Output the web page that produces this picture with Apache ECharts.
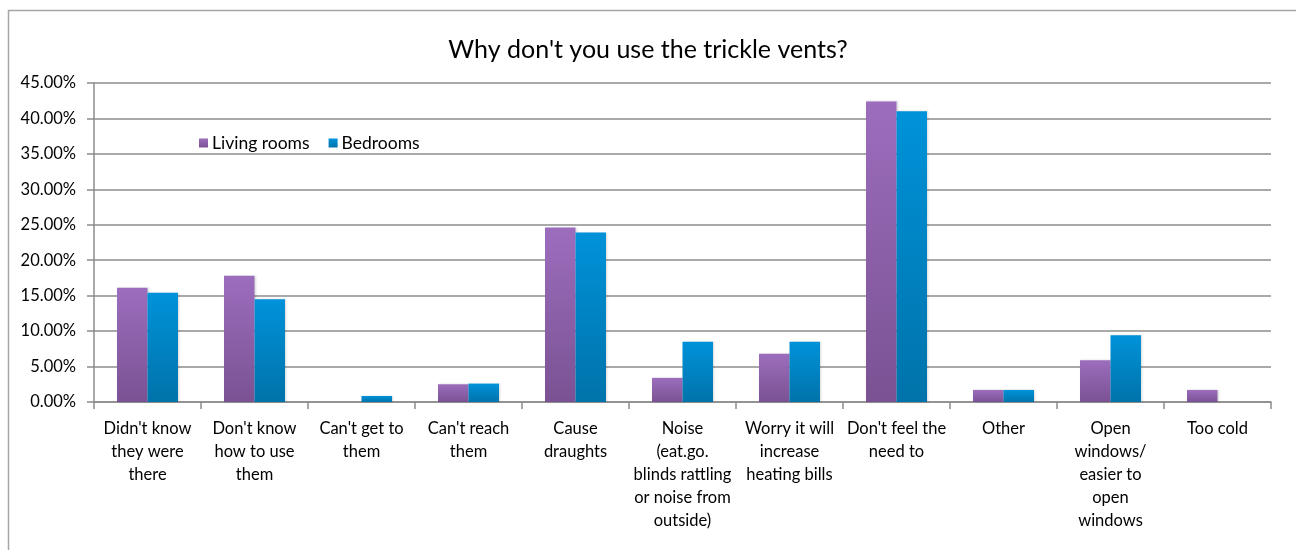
<!DOCTYPE html>
<html>
<head>
<meta charset="utf-8">
<script src="https://cdn.jsdelivr.net/npm/echarts@6/dist/echarts.min.js"></script>
<style>
html,body{margin:0;padding:0;background:#fff;}
#chart{width:1296px;height:550px;}
</style>
</head>
<body>
<div id="chart"></div>
<script>
const categories = [
  "Didn't know\nthey were\nthere",
  "Don't know\nhow to use\nthem",
  "Can't get to\nthem",
  "Can't reach\nthem",
  "Cause\ndraughts",
  "Noise\n(eat.go.\nblinds rattling\nor noise from\noutside)",
  "Worry it will\nincrease\nheating bills",
  "Don't feel the\nneed to",
  "Other",
  "Open\nwindows/\neasier to\nopen\nwindows",
  "Too cold"
];
const livingRooms = [16.1, 17.8, 0, 2.5, 24.6, 3.4, 6.8, 42.4, 1.7, 5.9, 1.7];
const bedrooms    = [15.4, 14.5, 0.85, 2.6, 23.9, 8.5, 8.5, 41.0, 1.7, 9.4, 0];
const yTicks = { min: 0, max: 45, interval: 5 };

const font = "Lato, 'Open Sans', sans-serif";
const chart = echarts.init(document.getElementById('chart'));
chart.setOption({
  animation: false,
  backgroundColor: '#fff',
  graphic: [{
    type: 'rect',
    shape: { x: 8.5, y: 10.5, width: 1400, height: 700 },
    style: { fill: 'none', stroke: '#a6a6a6', lineWidth: 1.5 },
    silent: true
  }],
  title: {
    text: "Why don't you use the trickle vents?",
    left: 'center',
    top: 32,
    textStyle: { fontFamily: font, fontSize: 25, fontWeight: 'normal', color: '#000' }
  },
  legend: {
    left: 194,
    top: 129,
    itemWidth: 9,
    itemHeight: 9,
    itemGap: 19,
    icon: 'rect',
    textStyle: { fontFamily: font, fontSize: 17.5, color: '#000', padding: [0, 0, 0, -1] },
    data: ['Living rooms', 'Bedrooms']
  },
  grid: { left: 94, right: 25, top: 83, bottom: 148, containLabel: false },
  xAxis: {
    type: 'category',
    data: categories,
    axisLine: { lineStyle: { color: '#8c8c8c', width: 1.5 } },
    axisTick: { show: true, length: 7, alignWithLabel: false, lineStyle: { color: '#8c8c8c', width: 1.5 } },
    axisLabel: { interval: 0, fontFamily: font, fontSize: 16.5, color: '#000', lineHeight: 23, margin: 15 },
    splitLine: { show: false }
  },
  yAxis: {
    type: 'value',
    min: yTicks.min,
    max: yTicks.max,
    interval: yTicks.interval,
    axisLine: { show: true, lineStyle: { color: '#8c8c8c', width: 1.5 } },
    axisTick: { show: true, length: 7, lineStyle: { color: '#8c8c8c', width: 1.5 } },
    axisLabel: { fontFamily: font, fontSize: 16.5, color: '#000', margin: 18, formatter: v => v.toFixed(2) + '%' },
    splitLine: { show: true, lineStyle: { color: '#8c8c8c', width: 1.5 } }
  },
  series: [
    {
      name: 'Living rooms',
      type: 'bar',
      data: livingRooms,
      barGap: '0%',
      barCategoryGap: '43%',
      itemStyle: {
        color: new echarts.graphic.LinearGradient(0, 0, 0, 1, [
          { offset: 0, color: '#9c6dbd' },
          { offset: 1, color: '#7a5293' }
        ]),
        shadowColor: 'rgba(0,0,0,0.15)', shadowBlur: 2, shadowOffsetX: 1
      }
    },
    {
      name: 'Bedrooms',
      type: 'bar',
      data: bedrooms,
      itemStyle: {
        color: new echarts.graphic.LinearGradient(0, 0, 0, 1, [
          { offset: 0, color: '#0092d9' },
          { offset: 1, color: '#0073aa' }
        ]),
        shadowColor: 'rgba(0,0,0,0.15)', shadowBlur: 2, shadowOffsetX: 1
      }
    }
  ]
});
</script>
</body>
</html>
